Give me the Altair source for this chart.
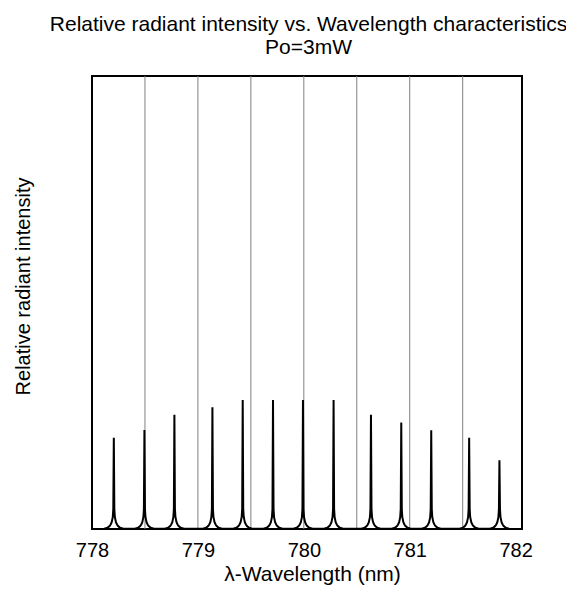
import altair as alt
import pandas as pd

# Peak wavelengths (nm) and relative intensities
peak_nm = [778.206, 778.495, 778.778, 779.137, 779.423, 779.709, 779.992,
           780.281, 780.634, 780.920, 781.203, 781.561, 781.847]
peak_rel = [0.2015, 0.2185, 0.252, 0.269, 0.285, 0.285, 0.285,
            0.285, 0.252, 0.235, 0.218, 0.2015, 0.152]

# Shape of the cusp at the foot of each line (offset from centre, level)
wing_offset_nm = [0.005, 0.01, 0.02, 0.03, 0.04, 0.06, 0.09]
wing_level = [0.044, 0.026, 0.015, 0.010, 0.0066, 0.0026, 0.0007]

grid_nm = [778.5, 779.0, 779.5, 780.0, 780.5, 781.0, 781.5]
tick_nm = [778, 779, 780, 781, 782]
x_min, x_max = 778.0, 782.06

rows = [{"wl": 778.0, "rel": 0.0}]
for x0, h in zip(peak_nm, peak_rel):
    for off, lev in reversed(list(zip(wing_offset_nm, wing_level))):
        rows.append({"wl": x0 - off, "rel": lev})
    rows.append({"wl": x0, "rel": h})
    for off, lev in zip(wing_offset_nm, wing_level):
        rows.append({"wl": x0 + off, "rel": lev})
rows.append({"wl": 782.0, "rel": 0.0})
spec_df = pd.DataFrame(rows)
grid_df = pd.DataFrame({"g": grid_nm})

FONT = "Liberation Sans"

xscale = alt.Scale(domain=[x_min, x_max], nice=False, zero=False)
yscale = alt.Scale(domain=[0, 1], nice=False, zero=True)

xaxis = alt.Axis(values=tick_nm, format="d", title="λ-Wavelength (nm)",
                 grid=False, ticks=False, domain=False,
                 labelFlush=False, labelFont=FONT, labelFontSize=20,
                 labelColor="black", labelBaseline="alphabetic",
                 labelPadding=27,
                 titleFont=FONT, titleFontSize=21, titleFontWeight="normal",
                 titleColor="black", titleX=220, titleY=51,
                 titleBaseline="alphabetic", titleAlign="center")

yaxis = alt.Axis(title="Relative radiant intensity", labels=False, ticks=False,
                 grid=False, domain=False,
                 titleFont=FONT, titleFontSize=20, titleFontWeight="normal",
                 titleColor="black", titleX=-63, titleY=210, titleAngle=270,
                 titleBaseline="alphabetic", titleAlign="center")

grid = alt.Chart(grid_df).mark_rule(color="#808080", strokeWidth=1).encode(
    x=alt.X("g:Q", scale=xscale, axis=xaxis, title="λ-Wavelength (nm)")
)

line = alt.Chart(spec_df).mark_line(color="black", strokeWidth=2, interpolate="linear").encode(
    x=alt.X("wl:Q", scale=xscale, axis=xaxis, title="λ-Wavelength (nm)"),
    y=alt.Y("rel:Q", scale=yscale, axis=yaxis, title="Relative radiant intensity"),
)

chart = alt.layer(grid, line).properties(
    width=430,
    height=453,
    autosize=alt.AutoSizeParams(type="none"),
    padding={"left": 84, "top": 68, "right": 44, "bottom": 58},
    background="white",
    title=alt.TitleParams(
        text=["Relative radiant intensity vs. Wavelength characteristics", "Po=3mW"],
        font=FONT, fontSize=21, fontWeight="normal", color="black",
        anchor="middle", lineHeight=23, offset=18, dx=1.5,
    ),
).configure_view(stroke="black", strokeWidth=2)

chart.save("out.html", embed_options={"renderer": "svg", "actions": False})
